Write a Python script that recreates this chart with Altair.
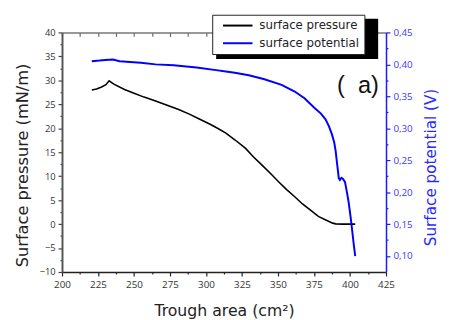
import altair as alt
import pandas as pd

# ---- data ----
pressure_area = [220.7, 224.0, 227.5, 230.5, 232.7, 236.0, 243.4, 250.0, 257.0, 265.0,
                 273.0, 281.0, 288.8, 295.0, 302.5, 308.0, 313.8, 320.0, 327.5, 333.0,
                 338.9, 345.0, 350.2, 356.0, 361.6, 367.0, 373.0, 378.0, 384.3, 388.0,
                 390.0, 395.0, 403.6]
pressure_value = [28.0, 28.2, 28.6, 29.1, 29.9, 29.2, 28.1, 27.3, 26.5, 25.7,
                  24.8, 23.9, 22.9, 22.0, 20.9, 20.0, 19.0, 17.6, 15.8, 14.0,
                  12.3, 10.5, 8.9, 7.2, 5.7, 4.2, 2.8, 1.6, 0.7, 0.2,
                  0.05, 0.0, 0.0]

potential_area = [220.7, 226.0, 230.0, 235.4, 240.0, 254.7, 265.0, 277.5, 293.4, 307.0,
                  313.8, 320.0, 329.7, 340.0, 352.5, 361.6, 368.4, 375.2, 379.8, 383.0,
                  385.4, 387.5, 389.0, 390.0, 391.0, 392.2, 393.0, 394.0, 395.0, 396.5,
                  398.0, 399.0, 400.2, 401.3, 402.5, 403.6]
potential_value = [0.405, 0.406, 0.407, 0.4075, 0.405, 0.4025, 0.400, 0.3985, 0.395, 0.391,
                   0.389, 0.387, 0.383, 0.377, 0.368, 0.3575, 0.347, 0.332, 0.323, 0.314,
                   0.303, 0.290, 0.278, 0.265, 0.245, 0.222, 0.219, 0.2225, 0.221, 0.216,
                   0.198, 0.185, 0.165, 0.144, 0.120, 0.100]

series_names = ["surface pressure", "surface potential"]
series_colors = ["#000000", "#0000ff"]

x_ticks = [200, 212.5, 225, 237.5, 250, 262.5, 275, 287.5, 300, 312.5, 325, 337.5,
           350, 362.5, 375, 387.5, 400, 412.5, 425]
y_left_ticks = [-10, -7.5, -5, -2.5, 0, 2.5, 5, 7.5, 10, 12.5, 15, 17.5, 20, 22.5,
                25, 27.5, 30, 32.5, 35, 37.5, 40]
y_right_ticks = [0.1, 0.125, 0.15, 0.175, 0.2, 0.225, 0.25, 0.275, 0.3, 0.325,
                 0.35, 0.375, 0.4, 0.425, 0.45]

note_label = ["( \u00a0a)"]
note_area = [405.5]
note_value = [28.7]

# ---- tables ----
df_p = pd.DataFrame({"area": pressure_area, "value": pressure_value,
                     "series": series_names[0]})
df_v = pd.DataFrame({"area": potential_area, "value": potential_value,
                     "series": series_names[1]})
df_note = pd.DataFrame({"area": note_area, "value": note_value, "label": note_label})

FONT = "Open Sans"
TFONT = "DejaVu Sans"
W, H = 330, 244

x_scale = alt.Scale(domain=[200, 425], nice=False, zero=False)
yl_scale = alt.Scale(domain=[-10, 40], nice=False, zero=False)
yr_scale = alt.Scale(domain=[0.075, 0.45], nice=False, zero=False)

legend = alt.Legend(
    orient="none", legendX=153, legendY=-18, title=None,
    symbolType="M0,0H6", symbolSize=100, symbolStrokeWidth=2,
    labelOffset=31, padding=5, rowPadding=6,
    labelFont=TFONT, labelFontSize=12, labelColor="#222",
    strokeColor="#222", fillColor="white", direction="vertical",
)
color = alt.Color("series:N",
                  scale=alt.Scale(domain=series_names, range=series_colors),
                  legend=legend)

bottom_axis = alt.Axis(
    orient="bottom", values=x_ticks,
    labelExpr="datum.value % 25 === 0 ? datum.label : ''",
    tickSize={"condition": {"test": "datum.value % 25 !== 0", "value": 2}, "value": 4},
    tickColor="#222", tickWidth=1.2, domainColor="#222", domainWidth=1.5,
    labelFont=FONT, labelFontSize=10, labelColor="#333", labelPadding=4,
    labelOverlap=False, labelFlush=False, grid=False,
    title="Trough area (cm²)", titleFont=TFONT, titleFontSize=16,
    titleFontWeight="normal", titleColor="#222", titleY=44,
    titleBaseline="alphabetic",
)
left_axis = alt.Axis(
    orient="left", values=y_left_ticks,
    labelExpr="datum.value % 5 === 0 ? datum.label : ''",
    tickSize={"condition": {"test": "datum.value % 5 !== 0", "value": 2}, "value": 4},
    tickColor="#444", tickWidth=1.2, domainColor="#555", domainWidth=2,
    labelFont=FONT, labelFontSize=9.5, labelColor="#333", labelPadding=3,
    labelOverlap=False, labelFlush=False, grid=False,
    title="Surface pressure (mN/m)", titleFont=TFONT, titleFontSize=16.5,
    titleFontWeight="normal", titleColor="#222", titleAngle=270,
    titleX=-40, titleY=135, titleAlign="center", titleBaseline="middle",
)
right_axis = alt.Axis(
    orient="right", values=y_right_ticks,
    labelExpr="round(datum.value*1000) % 50 === 0 ? replace(format(datum.value, '.2f'), '.', ',') : ''",
    tickSize={"condition": {"test": "round(datum.value*1000) % 50 !== 0", "value": 2}, "value": 4},
    tickColor="#1a1aff", tickWidth=1.2, domainColor="#1a1aff", domainWidth=1.5,
    labelFont=FONT, labelFontSize=10, labelColor="#3a3aff", labelPadding=3,
    labelOverlap=False, labelFlush=False, grid=False,
    title="Surface potential (V)", titleFont=TFONT, titleFontSize=15.5,
    titleFontWeight="normal", titleColor="#2a2aff", titleAngle=270,
    titleX=45, titleY=137, titleAlign="center", titleBaseline="middle",
)
top_axis = alt.Axis(
    orient="bottom", offset=-H, values=x_ticks, labels=False, title=None,
    tickSize=4, tickColor="#666", tickWidth=1.2, domainColor="#777",
    domainWidth=1.5, grid=False,
)

shadow = alt.Chart(pd.DataFrame({"k": [0]})).mark_rect(color="black").encode(
    x=alt.value(157), x2=alt.value(322), y=alt.value(-14), y2=alt.value(27)
)

press = alt.Chart(df_p).mark_line(strokeWidth=1.6).encode(
    x=alt.X("area:Q", scale=x_scale, axis=bottom_axis),
    y=alt.Y("value:Q", scale=yl_scale, axis=left_axis),
    color=color,
)
pot = alt.Chart(df_v).mark_line(strokeWidth=2).encode(
    x=alt.X("area:Q", scale=x_scale, axis=top_axis),
    y=alt.Y("value:Q", scale=yr_scale, axis=right_axis),
    color=color,
)
note = alt.Chart(df_note).mark_text(
    font="Liberation Sans", fontSize=24, color="#111", align="center", baseline="middle"
).encode(
    x=alt.X("area:Q", scale=x_scale, axis=None),
    y=alt.Y("value:Q", scale=yl_scale, axis=None),
    text="label:N",
)

chart = alt.layer(shadow, press, pot, note).resolve_scale(
    y="independent"
).resolve_axis(
    x="independent", y="independent"
).properties(
    width=W, height=H,
    padding={"left": 55, "top": 22, "right": 56, "bottom": 46},
    autosize=alt.AutoSizeParams(type="none"),
).configure_view(stroke=None)

chart.save("out.html", embed_options={"renderer": "svg", "actions": False})
